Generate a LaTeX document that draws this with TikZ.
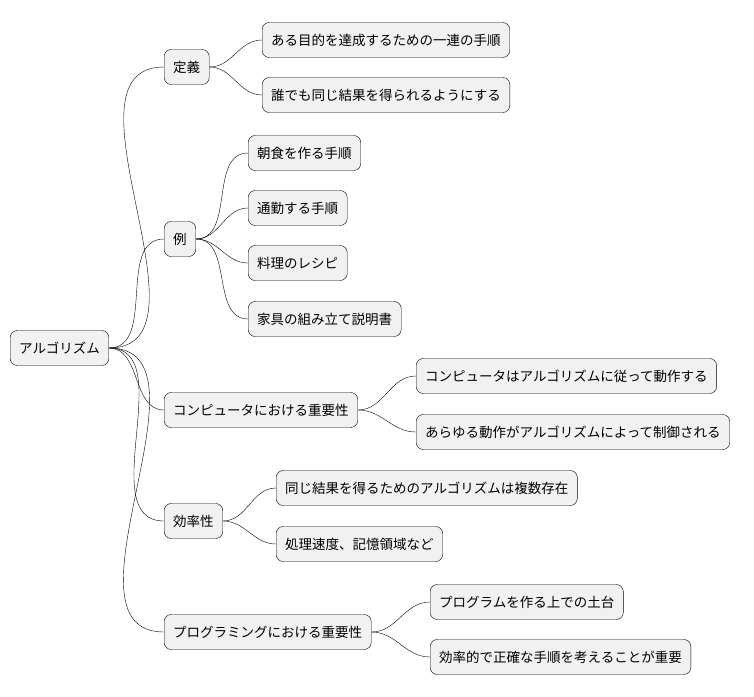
\documentclass[tikz,border=0pt]{standalone}
\usepackage{fontspec}
\setmainfont{Noto Sans CJK JP}
\definecolor{boxgray}{HTML}{F1F1F1}
\begin{document}
\begin{tikzpicture}[x=1pt,y=-1pt,
  topic/.style={draw=black,fill=boxgray,rounded corners=7pt,anchor=west,
    minimum height=35pt,inner xsep=9pt,font=\fontsize{13.5}{16}\selectfont},
  link/.style={black,thin}]

%fix the page
\useasboundingbox (0,0) rectangle (754,696);

%root
\node[topic] (root) at (10,348) {アルゴリズム};

%first level
\node[topic] (def) at (164,67) {定義};
\node[topic] (ex) at (164,239) {例};
\node[topic] (comp) at (164,410) {コンピュータにおける重要性};
\node[topic] (eff) at (164,521) {効率性};
\node[topic] (prog) at (164,632) {プログラミングにおける重要性};

%second level
\node[topic] (def1) at (262,40) {ある目的を達成するための一連の手順};
\node[topic] (def2) at (262,95) {誰でも同じ結果を得られるようにする};
\node[topic] (ex1) at (248,153) {朝食を作る手順};
\node[topic] (ex2) at (248,208) {通勤する手順};
\node[topic] (ex3) at (248,263) {料理のレシピ};
\node[topic] (ex4) at (248,319) {家具の組み立て説明書};
\node[topic] (comp1) at (416,376) {コンピュータはアルゴリズムに従って動作する};
\node[topic] (comp2) at (416,432) {あらゆる動作がアルゴリズムによって制御される};
\node[topic] (eff1) at (276,488) {同じ結果を得るためのアルゴリズムは複数存在};
\node[topic] (eff2) at (276,544) {処理速度、記憶領域など};
\node[topic] (prog1) at (430,602) {プログラムを作る上での土台};
\node[topic] (prog2) at (430,657) {効率的で正確な手順を考えることが重要};

%connectors
\foreach \p/\c in {root/def,root/ex,root/comp,root/eff,root/prog,
  def/def1,def/def2,ex/ex1,ex/ex2,ex/ex3,ex/ex4,comp/comp1,comp/comp2,
  eff/eff1,eff/eff2,prog/prog1,prog/prog2}
  {
  \draw[link] (\p.east) to[out=0,in=180] (\c.west);
  }

\end{tikzpicture}
\end{document}
